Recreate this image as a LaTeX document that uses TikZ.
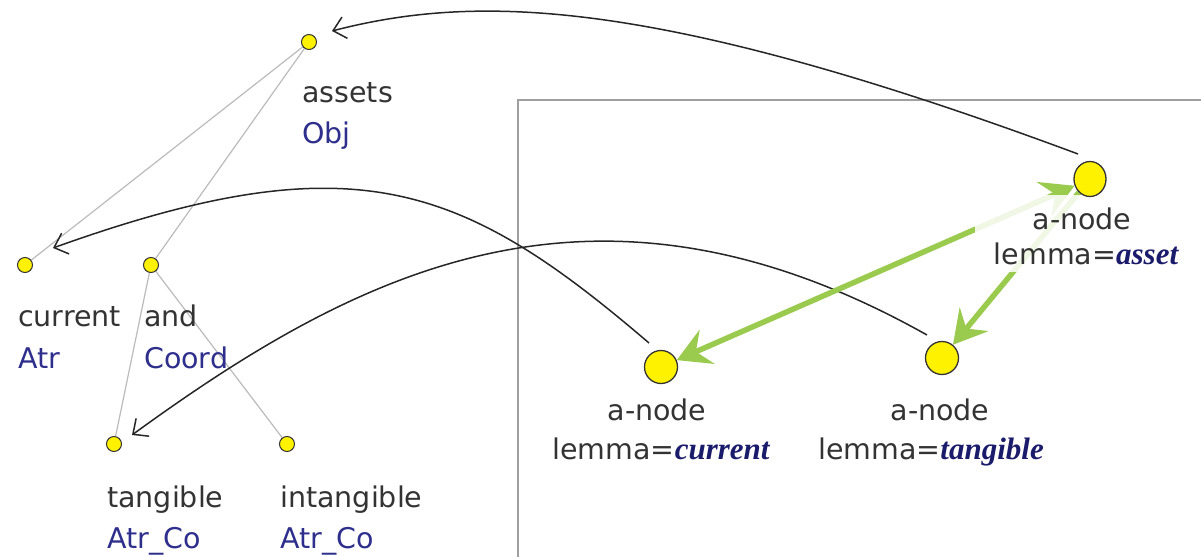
\documentclass[tikz,border=0pt]{standalone}
\usepackage{fontspec}
\setmainfont{DejaVu Sans}
\newfontfamily\lemfont{Liberation Serif}
\usetikzlibrary{arrows.meta,calc,shapes.geometric}
\definecolor{txt}{HTML}{333333}
\definecolor{fun}{HTML}{2E2E8C}
\definecolor{lem}{HTML}{1B1B6B}
\definecolor{grn}{HTML}{9BCB4E}
\definecolor{edgegray}{HTML}{BBBBBB}
\definecolor{framegray}{HTML}{A0A0A0}
\pgfdeclarelayer{bg}
\pgfsetlayers{bg,main}
\newcommand{\lemval}[1]{{\lemfont\fontsize{31bp}{36bp}\selectfont\bfseries\itshape\color{lem}#1}}
\begin{document}
\begin{tikzpicture}[x=1bp,y=-1bp,
  tnode/.style={circle,draw=black!80,fill=yellow,line width=1bp,minimum size=15bp,inner sep=0pt},
  anode/.style={ellipse,draw=black!80,fill=yellow,line width=1.3bp,minimum width=32bp,minimum height=35bp,inner sep=0pt},
  word/.style={anchor=base west,inner sep=0pt,text=txt,font=\fontsize{28.5bp}{34bp}\selectfont},
  func/.style={word,text=fun},
  aline/.style={anchor=base,inner sep=0pt,text=txt,font=\fontsize{28.5bp}{34bp}\selectfont},
  tedge/.style={draw=edgegray,line width=1.2bp},
  coref/.style={draw=black!85,line width=1.5bp,-{Straight Barb[length=12bp,width=22bp]}},
  ghead/.tip={Stealth[length=33bp,width=37bp,inset=12bp]},
  garrow/.style={draw=grn,line width=5.5bp},
  labelbg/.style={fill=white,fill opacity=0.85,inner sep=0pt},
]
\path[use as bounding box] (0,0) rectangle (1201,557);
\clip (0,0) rectangle (1201,557);

% tree nodes
\node[tnode] (assets) at (309,42) {};
\node[tnode] (current) at (25,265) {};
\node[tnode] (and) at (151,265) {};
\node[tnode] (tangible) at (114,444) {};
\node[tnode] (intangible) at (287,444) {};

\node[word] (assetsw) at (302,103) {assets};
\node[func] (assetsf) at (302,144) {Obj};
\node[word] (currentw) at (18,327) {current};
\node[func] (currentf) at (18,369) {Atr};
\node[word] (andw) at (144,327) {and};
\node[func] (andf) at (144,369) {Coord};
\node[word] (tangiblew) at (107,507) {tangible};
\node[func] (tangiblef) at (107,548) {Atr\_Co};
\node[word] (intangiblew) at (280,507) {intangible};
\node[func] (intangiblef) at (280,548) {Atr\_Co};

% right panel nodes
\node[labelbg,minimum width=220bp,minimum height=77bp] (astbg) at (1085,234) {};
\node[anode] (ast) at (1090,179) {};
\node[anode,minimum height=33bp,minimum width=33bp] (cur) at (661,367) {};
\node[anode,minimum height=33bp,minimum width=33bp] (tan) at (942,358) {};

\node[aline] (astw) at (1082,230) {a-node};
\node[aline] (astl) at (1086,265) {lemma=\lemval{asset}};
\node[aline] (curw) at (657,420) {a-node};
\node[aline] (curl) at (661,459) {lemma=\lemval{current}};
\node[aline] (tanw) at (940,420) {a-node};
\node[aline] (tanl) at (931,459) {lemma=\lemval{tangible}};

\coordinate (c1s) at ($(ast)+(-12,-25)$);
\coordinate (c1e) at ($(assets)+(23,-11)$);
\coordinate (c2s) at ($(cur)+(-12,-24)$);
\coordinate (c2e) at ($(current)+(28,-17)$);
\coordinate (c3s) at ($(tan)+(-15,-23)$);
\coordinate (c3e) at ($(tangible)+(18,-9)$);

\begin{pgfonlayer}{bg}
  \draw[draw=framegray,line width=1.5bp] (518,100) rectangle (1240,600);
  \draw[tedge] (assets) -- (current);
  \draw[tedge] (assets) -- (and);
  \draw[tedge] (and) -- (tangible);
  \draw[tedge] (and) -- (intangible);
  \draw[coref] (c1s) .. controls (656,-3) and (477,-6.5) .. (c1e);
  \draw[coref] (c2s) .. controls (462,183) and (354,140) .. (c2e);
  \draw[coref] (c3s) .. controls (596,149) and (359,270) .. (c3e);
  \draw[garrow,{ghead}-{ghead}] (cur) -- (ast);
  \draw[garrow,-{ghead}] (ast) -- (tan);
\end{pgfonlayer}
\end{tikzpicture}
\end{document}
